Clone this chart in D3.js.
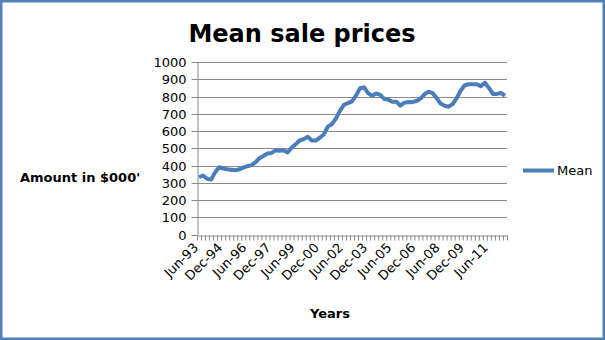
<!DOCTYPE html>
<html><head><meta charset="utf-8">
<script src="https://cdn.jsdelivr.net/npm/d3@7"></script>
<style>
html,body{margin:0;padding:0;background:#fff;}
svg{display:block;font-family:"DejaVu Sans",sans-serif;}
</style></head>
<body>
<svg id="chart" width="605" height="340"></svg>
<script>
const categories = [
"Jun-93","Sep-93","Dec-93",
"Mar-94","Jun-94","Sep-94","Dec-94",
"Mar-95","Jun-95","Sep-95","Dec-95",
"Mar-96","Jun-96","Sep-96","Dec-96",
"Mar-97","Jun-97","Sep-97","Dec-97",
"Mar-98","Jun-98","Sep-98","Dec-98",
"Mar-99","Jun-99","Sep-99","Dec-99",
"Mar-00","Jun-00","Sep-00","Dec-00",
"Mar-01","Jun-01","Sep-01","Dec-01",
"Mar-02","Jun-02","Sep-02","Dec-02",
"Mar-03","Jun-03","Sep-03","Dec-03",
"Mar-04","Jun-04","Sep-04","Dec-04",
"Mar-05","Jun-05","Sep-05","Dec-05",
"Mar-06","Jun-06","Sep-06","Dec-06",
"Mar-07","Jun-07","Sep-07","Dec-07",
"Mar-08","Jun-08","Sep-08","Dec-08",
"Mar-09","Jun-09","Sep-09","Dec-09",
"Mar-10","Jun-10","Sep-10","Dec-10",
"Mar-11","Jun-11","Sep-11","Dec-11",
"Mar-12","Jun-12"];

const meanValues = [
332,342,323,318,360,390,383,378,375,372,
378,388,396,402,418,442,455,470,473,488,
485,488,475,503,523,545,553,567,545,545,
561,580,625,640,672,717,752,762,772,805,
848,853,820,804,818,810,786,782,770,770,
747,764,768,767,774,787,813,828,820,792,
759,746,741,756,790,835,865,871,871,871,
860,880,850,815,815,820,805];

const shownLabels = ["Jun-93","Dec-94","Jun-96","Dec-97","Jun-99","Dec-00","Jun-02","Dec-03","Jun-05","Dec-06","Jun-08","Dec-09","Jun-11"];
const yTicks = [0,100,200,300,400,500,600,700,800,900,1000];
const seriesName = "Mean";
const titleText = "Mean sale prices";
const xTitle = "Years";
const yTitle = "Amount in $000'";

const svg = d3.select("#chart");
const W = 605, H = 340;
const L = 197, R = 507, T = 62, B = 234.5;
const gridColor = "#8a8a8a";
const lineColor = "#4a7ebb";

// border
svg.append("rect").attr("x",1.25).attr("y",1.25).attr("width",W-2.5).attr("height",H-2.5)
  .attr("fill","#fff").attr("stroke","#4f81bd").attr("stroke-width",2.5);

const x = d3.scaleBand().domain(categories).range([L,R]).paddingInner(0).paddingOuter(0);
const xb = d3.scaleLinear().domain([0,categories.length]).range([L,R]);
const y = d3.scaleLinear().domain([0,1000]).range([B,T]);

// gridlines
svg.append("g").selectAll("line").data(yTicks.slice(1)).join("line")
  .attr("x1",L).attr("x2",R).attr("y1",d=>Math.round(y(d))+0.5).attr("y2",d=>Math.round(y(d))+0.5)
  .attr("stroke",gridColor).attr("stroke-width",1);

// y axis
const yAxis = svg.append("g").attr("transform",`translate(${L+0.5},0)`)
  .call(d3.axisLeft(y).tickValues(yTicks).tickFormat(d3.format("d")).tickSize(6).tickPadding(5).tickSizeOuter(0));
yAxis.selectAll("path,line").attr("stroke",gridColor);
yAxis.selectAll(".tick").attr("transform",d=>`translate(0,${Math.round(y(d))+0.5})`);
yAxis.selectAll("text").attr("font-family","DejaVu Sans").attr("font-size",13).attr("fill","#000");

// x axis with ticks between categories
const xAxis = svg.append("g").attr("transform",`translate(0,${Math.round(B)+0.5})`)
  .call(d3.axisBottom(xb).tickValues(d3.range(categories.length+1)).tickSize(5).tickFormat("").tickSizeOuter(0));
xAxis.selectAll("path,line").attr("stroke",gridColor);

// x labels
svg.append("g").selectAll("text").data(shownLabels).join("text")
  .attr("transform",d=>`translate(${x(d)+x.bandwidth()/2},${B+14}) rotate(-45)`)
  .attr("text-anchor","end").attr("font-size",13).attr("fill","#000").text(d=>d);

// line
const line = d3.line().x((d,i)=>x(categories[i])+x.bandwidth()/2).y(d=>y(d));
svg.append("path").datum(meanValues).attr("d",line)
  .attr("fill","none").attr("stroke",lineColor).attr("stroke-width",4)
  .attr("stroke-linejoin","round").attr("stroke-linecap","butt");

// title
svg.append("text").attr("x",302).attr("y",42).attr("text-anchor","middle")
  .attr("font-size",24).attr("font-weight","bold").text(titleText);
// axis titles
svg.append("text").attr("x",330).attr("y",318).attr("text-anchor","middle")
  .attr("font-size",13).attr("font-weight","bold").text(xTitle);
svg.append("text").attr("x",20).attr("y",182).attr("text-anchor","start")
  .attr("font-size",13).attr("font-weight","bold").text(yTitle);

// legend
svg.append("line").attr("x1",523).attr("x2",554).attr("y1",170.5).attr("y2",170.5)
  .attr("stroke",lineColor).attr("stroke-width",4);
svg.append("text").attr("x",557).attr("y",175).attr("font-size",13).text(seriesName);
</script>
</body></html>
